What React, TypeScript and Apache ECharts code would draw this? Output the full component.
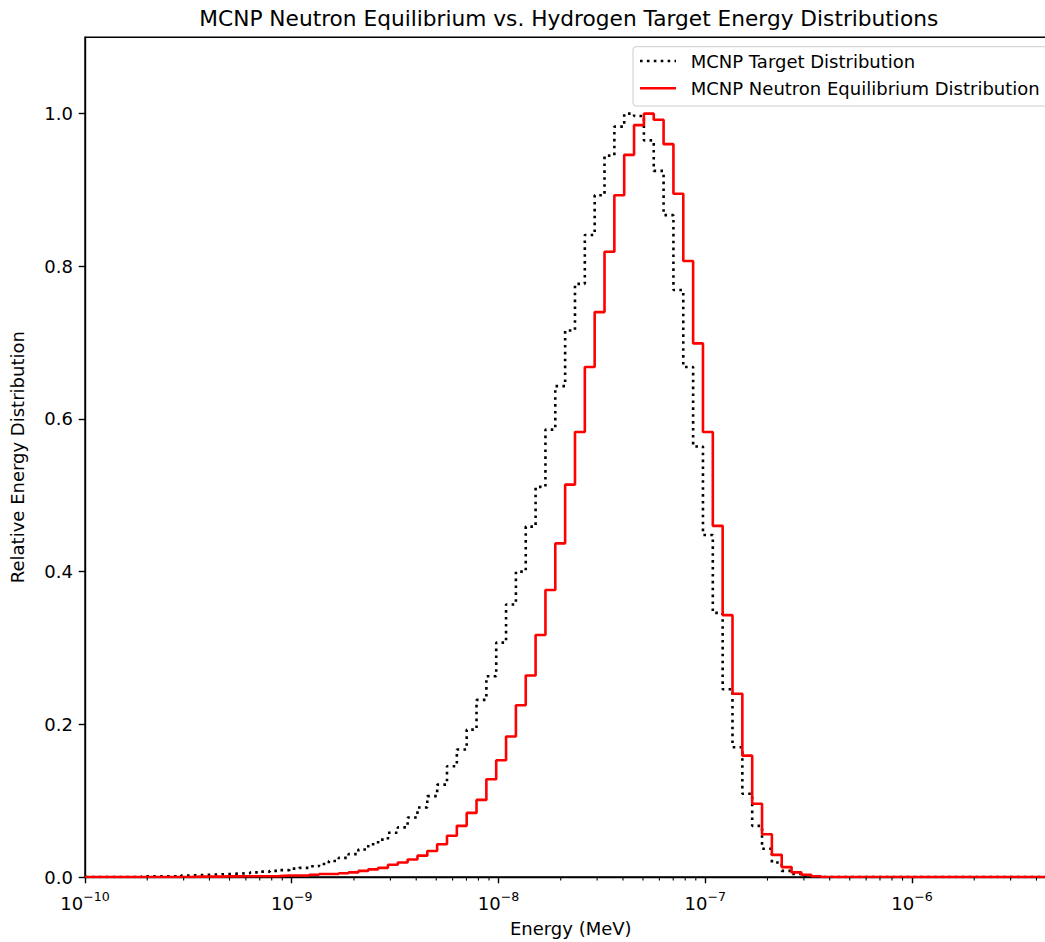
import React, { useEffect, useRef } from "react";
import * as echarts from "echarts";

const TITLE = "MCNP Neutron Equilibrium vs. Hydrogen Target Energy Distributions";
const X_NAME = "Energy (MeV)";
const Y_NAME = "Relative Energy Distribution";
const TARGET_NAME = "MCNP Target Distribution";
const EQUIL_NAME = "MCNP Neutron Equilibrium Distribution";

const X_MIN = 1e-10;
const X_MAX = 5e-6;
const Y_MAX = 1.1;
const Y_TICKS = [0, 0.2, 0.4, 0.6, 0.8, 1.0];
const MINOR_MULTIPLIERS = [2, 3, 4, 5, 6, 7, 8, 9];
const DECADES = [-10, -9, -8, -7, -6];

// Histogram binning (log-spaced energy bins, 21 per decade)
const BINS_PER_DECADE = 21;
const FIRST_EDGE_LOG10 = -9.7253;

// Bin heights, left to right (relative units)
const targetDist = [
  0.001, 0.001, 0.001, 0.001, 0.002, 0.0025, 0.003, 0.0035, 0.004, 0.0045,
  0.005, 0.006, 0.007, 0.008, 0.009, 0.011, 0.012, 0.014, 0.017, 0.021,
  0.025, 0.030, 0.036, 0.043, 0.049, 0.058, 0.065, 0.078, 0.091, 0.106,
  0.121, 0.145, 0.167, 0.193, 0.232, 0.263, 0.307, 0.357, 0.400, 0.459,
  0.511, 0.586, 0.643, 0.716, 0.777, 0.841, 0.893, 0.945, 0.983, 1.000,
  0.997, 0.965, 0.925, 0.867, 0.769, 0.668, 0.564, 0.448, 0.346, 0.246,
  0.170, 0.109, 0.067, 0.037, 0.019, 0.008, 0.004, 0.001, 0, 0,
];

const equilibriumDist = [
  0, 0, 0, 0, 0, 0.0005, 0.0005, 0.0005, 0.0008, 0.0008,
  0.001, 0.001, 0.001, 0.0012, 0.002, 0.002, 0.002, 0.003, 0.004, 0.004,
  0.005, 0.006, 0.008, 0.010, 0.012, 0.016, 0.019, 0.023, 0.028, 0.034,
  0.043, 0.054, 0.067, 0.084, 0.101, 0.128, 0.153, 0.184, 0.225, 0.264,
  0.317, 0.376, 0.437, 0.514, 0.583, 0.668, 0.740, 0.819, 0.893, 0.946,
  0.985, 1.000, 0.992, 0.960, 0.895, 0.807, 0.699, 0.583, 0.460, 0.343,
  0.240, 0.159, 0.096, 0.056, 0.029, 0.013, 0.006, 0.003, 0.001, 0,
];

const FONT = "DejaVu Sans";
const FS = 18;
const TITLE_FS = 21.7;

function binEdge(i: number): number {
  return Math.pow(10, FIRST_EDGE_LOG10 + i / BINS_PER_DECADE);
}

function stepData(values: number[]): [number, number][] {
  const pts: [number, number][] = [[X_MIN, 0]];
  values.forEach((v, i) => pts.push([binEdge(i), v]));
  pts.push([binEdge(values.length), 0]);
  pts.push([X_MAX, 0]);
  return pts;
}

function minorTicks(): [number, number][] {
  const out: [number, number][] = [];
  DECADES.forEach((d) => {
    MINOR_MULTIPLIERS.forEach((m) => {
      const v = m * Math.pow(10, d);
      if (v > X_MIN && v < X_MAX) out.push([v, 0]);
    });
  });
  return out;
}

export default function App() {
  const ref = useRef<HTMLDivElement>(null);

  useEffect(() => {
    if (!ref.current) return;
    const chart = echarts.init(ref.current, undefined, { renderer: "svg" });

    const gridLeft = 81;
    const gridTop = 37.3;
    const gridRight = 3.5;
    const gridBottom = 64.5;
    const chartW = 1060;
    const plotCenterX = gridLeft + (chartW - gridLeft - gridRight) / 2;

    chart.setOption({
      animation: false,
      backgroundColor: "#ffffff",
      textStyle: { fontFamily: FONT },
      grid: {
        left: gridLeft,
        right: gridRight,
        top: gridTop,
        bottom: gridBottom,
        show: true,
        borderColor: "#000000",
        borderWidth: 1.4,
        containLabel: false,
      },
      xAxis: {
        type: "log",
        logBase: 10,
        min: X_MIN,
        max: X_MAX,
        name: X_NAME,
        nameLocation: "middle",
        nameGap: 42,
        nameTextStyle: { fontSize: FS, color: "#000", fontFamily: FONT },
        axisLine: { show: true, lineStyle: { color: "#000", width: 1.4 } },
        axisTick: { show: true, length: 6.3, lineStyle: { color: "#000", width: 1.4 } },
        splitLine: { show: false },
        minorTick: { show: false },
        axisLabel: {
          margin: 13,
          fontSize: FS,
          color: "#000",
          fontFamily: FONT,
          showMaxLabel: false,
          formatter: (v: number) => {
            const lg = Math.log10(v);
            const e = Math.round(lg);
            if (Math.abs(lg - e) > 1e-6) return "";
            return `{b|10}{s|${e < 0 ? "\u2212" : ""}${Math.abs(e)}}`;
          },
          rich: {
            b: { fontSize: FS, fontFamily: FONT, color: "#000" },
            s: { fontSize: 12.6, fontFamily: FONT, color: "#000", padding: [0, 0, 13, 0] },
          },
        },
      },
      yAxis: {
        type: "value",
        min: 0,
        max: Y_MAX,
        interval: 0.2,
        name: Y_NAME,
        nameLocation: "middle",
        nameGap: 59,
        nameTextStyle: { fontSize: FS, color: "#000", fontFamily: FONT },
        axisLine: { show: true, lineStyle: { color: "#000", width: 1.4 } },
        axisTick: { show: true, length: 6.3, lineStyle: { color: "#000", width: 1.4 }, customValues: Y_TICKS },
        splitLine: { show: false },
        axisLabel: {
          margin: 12,
          fontSize: FS,
          color: "#000",
          fontFamily: FONT,
          customValues: Y_TICKS,
          formatter: (v: number) => v.toFixed(1),
        },
      },
      series: [
        {
          name: TARGET_NAME,
          type: "line",
          step: "end",
          symbol: "none",
          data: stepData(targetDist),
          lineStyle: { color: "#000000", width: 2.6, type: [2.6, 4.3], cap: "butt" },
          z: 3,
        },
        {
          name: EQUIL_NAME,
          type: "line",
          step: "end",
          symbol: "none",
          data: stepData(equilibriumDist),
          lineStyle: { color: "#ff0000", width: 2.6 },
          z: 4,
        },
        {
          name: "minorTicks",
          type: "custom",
          silent: true,
          data: minorTicks(),
          renderItem: (params: any, api: any) => {
            const p = api.coord([api.value(0), 0]);
            return {
              type: "line",
              shape: { x1: p[0], y1: p[1], x2: p[0], y2: p[1] + 3.6 },
              style: { stroke: "#000", lineWidth: 1.1 },
            };
          },
          z: 5,
        },
      ],
      graphic: [
        {
          type: "text",
          x: plotCenterX,
          y: 18.5,
          style: {
            text: TITLE,
            fontSize: TITLE_FS,
            fontFamily: FONT,
            fill: "#000",
            align: "center",
            verticalAlign: "middle",
          },
        },
        {
          type: "group",
          z: 100,
          children: [
            {
              type: "rect",
              shape: { x: 633, y: 46.7, width: 418, height: 59.3, r: 3 },
              style: { fill: "rgba(255,255,255,0.8)", stroke: "#cccccc", lineWidth: 1 },
            },
            {
              type: "line",
              shape: { x1: 640, y1: 61, x2: 676, y2: 61 },
              style: { stroke: "#000", lineWidth: 2.6, lineDash: [2.6, 4.3] },
            },
            {
              type: "text",
              x: 690.7,
              y: 61,
              style: { text: TARGET_NAME, fontSize: FS, fontFamily: FONT, fill: "#000", verticalAlign: "middle" },
            },
            {
              type: "line",
              shape: { x1: 640, y1: 88.3, x2: 676, y2: 88.3 },
              style: { stroke: "#ff0000", lineWidth: 2.6 },
            },
            {
              type: "text",
              x: 690.7,
              y: 88.3,
              style: { text: EQUIL_NAME, fontSize: FS, fontFamily: FONT, fill: "#000", verticalAlign: "middle" },
            },
          ],
        },
      ],
    });

    return () => chart.dispose();
  }, []);

  return (
    <div
      style={{
        position: "fixed",
        left: 0,
        top: 0,
        width: 1045,
        height: 942,
        overflow: "hidden",
        background: "#fff",
      }}
    >
      <div ref={ref} style={{ width: 1060, height: 942 }} />
    </div>
  );
}
